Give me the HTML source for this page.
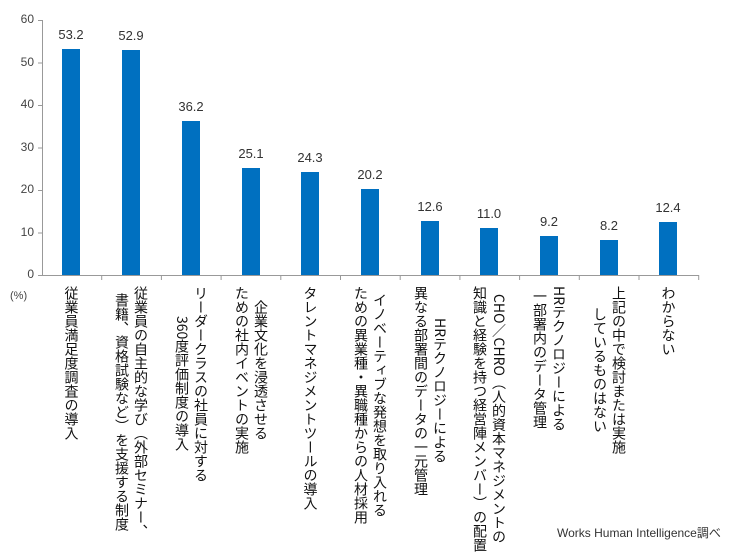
<!DOCTYPE html>
<html><head><meta charset="utf-8"><style>
body{margin:0;width:740px;height:546px;background:#fff;position:relative;overflow:hidden;font-family:"Liberation Sans","Noto Sans CJK JP",sans-serif;color:#222}
.yl{position:absolute;left:0;width:34px;text-align:right;font-size:12px;color:#444}
.bar{position:absolute;width:18px;background:#0070c0}
.v{position:absolute;width:60px;text-align:center;font-size:13px;color:#333}
.lab{position:absolute;top:286px;writing-mode:vertical-rl;text-align:center;font-size:14px;line-height:19px;white-space:nowrap;transform:translateX(-50%);font-family:"Noto Sans CJK JP",sans-serif;color:#111}
</style></head><body>
<svg width="740" height="546" style="position:absolute;left:0;top:0">
<g stroke="#999" stroke-width="1" fill="none">
<line x1="42.5" y1="20" x2="42.5" y2="275"/>
<line x1="42" y1="275.5" x2="699" y2="275.5"/>
<line x1="38" y1="20.5" x2="42" y2="20.5"/><line x1="38" y1="63" x2="42" y2="63"/><line x1="38" y1="105.5" x2="42" y2="105.5"/><line x1="38" y1="148" x2="42" y2="148"/><line x1="38" y1="190.5" x2="42" y2="190.5"/><line x1="38" y1="233" x2="42" y2="233"/><line x1="38" y1="275.5" x2="42" y2="275.5"/>
<line x1="101.7" y1="275" x2="101.7" y2="280"/><line x1="161.4" y1="275" x2="161.4" y2="280"/><line x1="221.1" y1="275" x2="221.1" y2="280"/><line x1="280.8" y1="275" x2="280.8" y2="280"/><line x1="340.5" y1="275" x2="340.5" y2="280"/><line x1="400.2" y1="275" x2="400.2" y2="280"/><line x1="459.9" y1="275" x2="459.9" y2="280"/><line x1="519.6" y1="275" x2="519.6" y2="280"/><line x1="579.3" y1="275" x2="579.3" y2="280"/><line x1="639" y1="275" x2="639" y2="280"/><line x1="698.7" y1="275" x2="698.7" y2="280"/>
</g></svg>
<div class="yl" style="top:12px">60</div><div class="yl" style="top:55px">50</div><div class="yl" style="top:97px">40</div><div class="yl" style="top:140px">30</div><div class="yl" style="top:182px">20</div><div class="yl" style="top:225px">10</div><div class="yl" style="top:267px">0</div>
<div style="position:absolute;left:10px;top:290px;font-size:11px;color:#444">(%)</div>

<div class="bar" style="left:62px;top:49px;height:226px"></div><div class="v" style="left:41px;top:27px">53.2</div>
<div class="bar" style="left:122px;top:50px;height:225px"></div><div class="v" style="left:101px;top:28px">52.9</div>
<div class="bar" style="left:182px;top:121px;height:154px"></div><div class="v" style="left:161px;top:99px">36.2</div>
<div class="bar" style="left:242px;top:168px;height:107px"></div><div class="v" style="left:221px;top:146px">25.1</div>
<div class="bar" style="left:301px;top:172px;height:103px"></div><div class="v" style="left:280px;top:150px">24.3</div>
<div class="bar" style="left:361px;top:189px;height:86px"></div><div class="v" style="left:340px;top:167px">20.2</div>
<div class="bar" style="left:421px;top:221px;height:54px"></div><div class="v" style="left:400px;top:199px">12.6</div>
<div class="bar" style="left:480px;top:228px;height:47px"></div><div class="v" style="left:459px;top:206px">11.0</div>
<div class="bar" style="left:540px;top:236px;height:39px"></div><div class="v" style="left:519px;top:214px">9.2</div>
<div class="bar" style="left:600px;top:240px;height:35px"></div><div class="v" style="left:579px;top:218px">8.2</div>
<div class="bar" style="left:659px;top:222px;height:53px"></div><div class="v" style="left:638px;top:200px">12.4</div>

<div class="lab" style="left:71px">従業員満足度調査の導入</div>
<div class="lab" style="left:131px">従業員の自主的な学び（外部セミナー、<br>書籍、資格試験など）を支援する制度</div>
<div class="lab" style="left:191px">リーダークラスの社員に対する<br>360度評価制度の導入</div>
<div class="lab" style="left:251px">企業文化を浸透させる<br>ための社内イベントの実施</div>
<div class="lab" style="left:310px">タレントマネジメントツールの導入</div>
<div class="lab" style="left:370px">イノベーティブな発想を取り入れる<br>ための異業種・異職種からの人材採用</div>
<div class="lab" style="left:430px">HRテクノロジーによる<br>異なる部署間のデータの一元管理</div>
<div class="lab" style="left:489px">CHO／CHRO（人的資本マネジメントの<br>知識と経験を持つ経営陣メンバー）の配置</div>
<div class="lab" style="left:549px">HRテクノロジーによる<br>一部署内のデータ管理</div>
<div class="lab" style="left:609px">上記の中で検討または実施<br>しているものはない</div>
<div class="lab" style="left:668px">わからない</div>

<div style="position:absolute;left:557px;top:524px;font-size:12px;color:#333;white-space:nowrap">Works Human Intelligence調べ</div>
</body></html>
